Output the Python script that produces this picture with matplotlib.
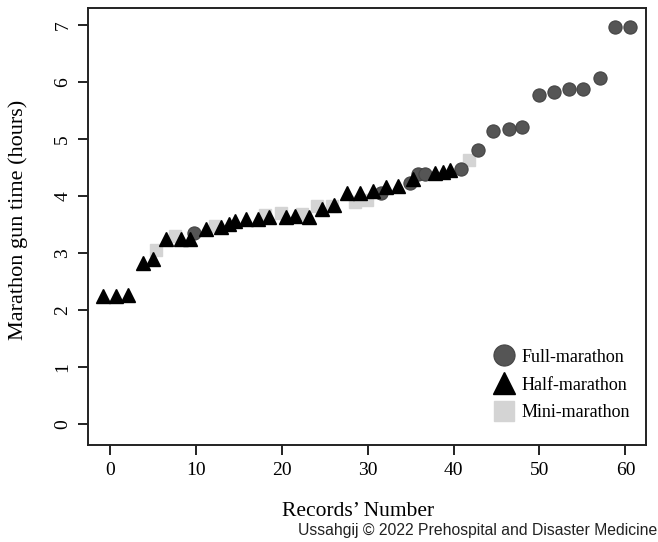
import numpy as np
import matplotlib.pyplot as plt

# records' number and gun time (hours)
full_x = [9.8, 31.5, 34.9, 35.9, 36.7, 40.9, 42.8, 44.6, 46.4, 48.0,
          49.9, 51.7, 53.4, 55.1, 57.1, 58.8, 60.5]
full_y = [3.35, 4.06, 4.22, 4.39, 4.39, 4.47, 4.80, 5.14, 5.17, 5.22,
          5.77, 5.82, 5.88, 5.88, 6.07, 6.96, 6.96]

half_x = [-0.8, 0.7, 2.1, 3.8, 5.0, 6.5, 8.3, 9.3, 11.2, 12.9, 13.9, 14.6,
          15.8, 17.2, 18.5, 20.5, 21.5, 23.2, 24.7, 26.1, 27.6, 29.1, 30.6,
          32.1, 33.5, 35.3, 37.8, 38.8, 39.6]
half_y = [2.24, 2.25, 2.27, 2.83, 2.89, 3.24, 3.25, 3.24, 3.42, 3.45, 3.51,
          3.57, 3.60, 3.59, 3.64, 3.64, 3.65, 3.64, 3.77, 3.85, 4.05, 4.06,
          4.08, 4.15, 4.18, 4.30, 4.41, 4.43, 4.46]

mini_x = [5.4, 7.6, 12.2, 18.0, 19.9, 22.4, 24.1, 25.8, 28.5, 29.9, 41.8]
mini_y = [3.05, 3.29, 3.48, 3.67, 3.70, 3.68, 3.82, 3.83, 3.90, 3.93, 4.64]

serif = 'Liberation Serif'

fig = plt.figure(figsize=(6.58, 5.42), dpi=100)
ax = fig.add_axes([88 / 658, 1 - 445 / 542, 558 / 658, 437 / 542])

ax.plot(mini_x, mini_y, 's', ms=9, color='#d4d4d4', mec='#d4d4d4', zorder=2,
        label='Mini-marathon')
ax.plot(full_x, full_y, 'o', ms=9.5, color='#555555', mec='#444444', mew=0.8,
        zorder=3, label='Full-marathon')
ax.plot(half_x, half_y, '^', ms=9.5, color='black', zorder=4,
        label='Half-marathon')

ax.set_xlim(-2.55, 62.4)
ax.set_ylim(-0.37, 7.3)
ax.set_xticks(np.arange(0, 61, 10))
ax.set_yticks(np.arange(0, 8, 1))

for s in ax.spines.values():
    s.set_linewidth(1.4)
    s.set_color('#222222')
ax.tick_params(direction='out', length=7, width=1.4, color='#222222',
               labelsize=14, pad=5)
for lab in ax.get_xticklabels() + ax.get_yticklabels():
    lab.set_fontfamily(serif)
for lab in ax.get_yticklabels():
    lab.set_rotation(90)
    lab.set_va('center')

# legend order: full, half, mini
h, l = ax.get_legend_handles_labels()
order = [1, 2, 0]
leg = ax.legend([h[i] for i in order], [l[i] for i in order], loc='center',
                frameon=False, markerscale=1.6, handlelength=1.0,
                handletextpad=0.45, labelspacing=0.6,
                bbox_to_anchor=(0.85, 0.137), prop={'family': serif, 'size': 13})

fig.text(18 / 658, 1 - 220 / 542, 'Marathon gun time (hours)', rotation=90,
         ha='center', va='center', family=serif, fontsize=16)
fig.text(358 / 658, 1 - 511 / 542, 'Records\u2019 Number', ha='center',
         va='center', family=serif, fontsize=15.5)
fig.text(657 / 658, 1 - 531 / 542,
         'Ussahgij \u00a9 2022 Prehospital and Disaster Medicine',
         ha='right', va='center', family='Liberation Sans', fontsize=11.3,
         color='#222222')

fig.savefig('out.png', dpi=100)
